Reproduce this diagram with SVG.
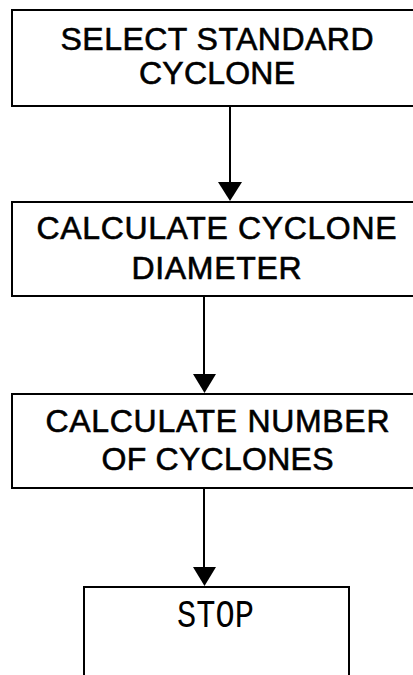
<svg xmlns="http://www.w3.org/2000/svg" width="413" height="675" viewBox="0 0 413 675">
<style>
.box{fill:#fff;stroke:#000;stroke-width:2}
.t{font-family:"Liberation Sans",Arial,sans-serif;font-size:32px;fill:#000;stroke:#000;stroke-width:0.6px;text-anchor:middle}
.m{font-family:"Liberation Mono","Courier New",monospace;font-size:32px;fill:#000;text-anchor:middle}
.ln{stroke:#000;stroke-width:2;fill:none}
.ah{fill:#000}
</style>
<rect width="413" height="675" fill="#fff"/>
<g id="connectors">
<line class="ln" x1="230" y1="106" x2="230" y2="190"/>
<polygon class="ah" points="218,182 242,182 230,201"/>
<line class="ln" x1="204" y1="296" x2="204" y2="380"/>
<polygon class="ah" points="193,374 216,374 204.5,393"/>
<line class="ln" x1="204" y1="488" x2="204" y2="572"/>
<polygon class="ah" points="193,567 216,567 204.5,586"/>
</g>
<g id="n1">
<rect class="box" x="12" y="10" width="420" height="96"/>
<text class="t" x="217" y="49.5" textLength="313" lengthAdjust="spacing">SELECT STANDARD</text>
<text class="t" x="217" y="84" textLength="156" lengthAdjust="spacing">CYCLONE</text>
</g>
<g id="n2">
<rect class="box" x="12" y="202" width="420" height="94"/>
<text class="t" x="216.5" y="238.5" textLength="360" lengthAdjust="spacing">CALCULATE CYCLONE</text>
<text class="t" x="216.5" y="278.5" textLength="170" lengthAdjust="spacing">DIAMETER</text>
</g>
<g id="n3">
<rect class="box" x="12" y="394" width="420" height="94"/>
<text class="t" x="217.5" y="432" textLength="344" lengthAdjust="spacing">CALCULATE NUMBER</text>
<text class="t" x="217.5" y="470" textLength="232" lengthAdjust="spacing">OF CYCLONES</text>
</g>
<g id="n4">
<rect class="box" x="84" y="587" width="265" height="100"/>
<text class="m" transform="translate(215.5,627) scale(1,1.2)" x="0" y="0">STOP</text>
</g>
</svg>
